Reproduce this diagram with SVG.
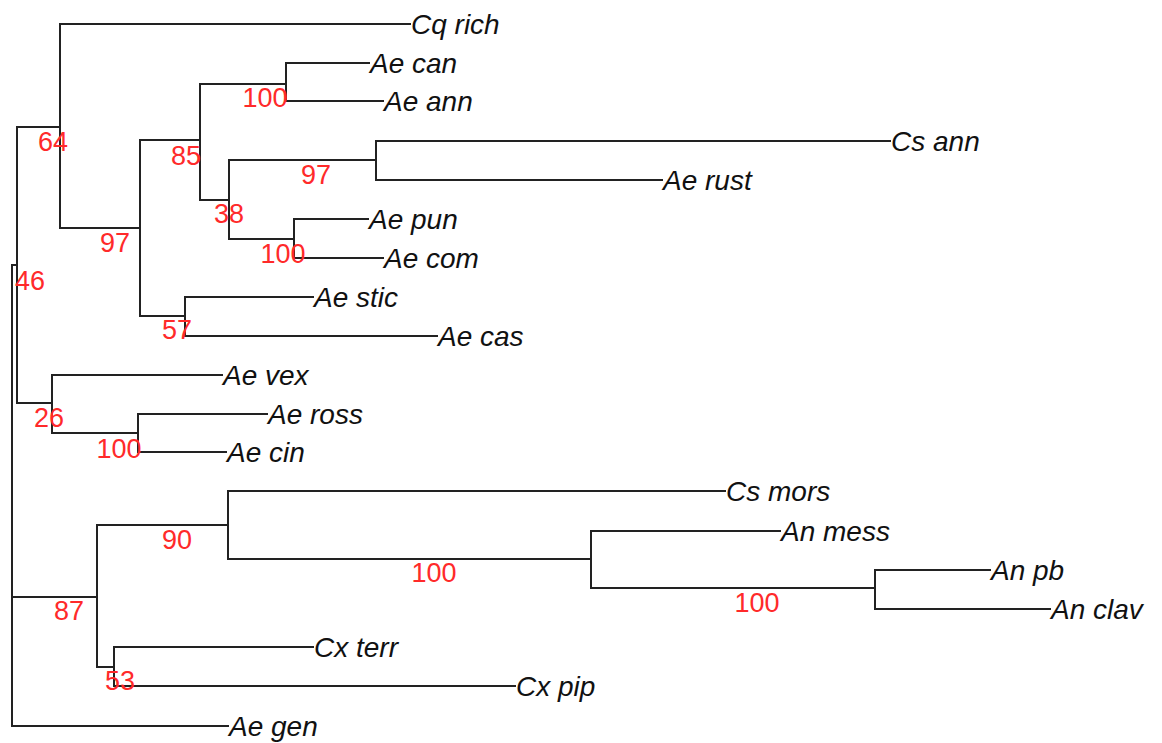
<svg xmlns="http://www.w3.org/2000/svg" width="1162" height="743" viewBox="0 0 1162 743">
<style>
.br{fill:none;stroke:#222;stroke-width:2;stroke-linecap:square}
.tip{font-family:"Liberation Sans",Arial,sans-serif;font-style:italic;font-size:28px;fill:#111}
.bs{font-family:"Liberation Sans",Arial,sans-serif;font-size:27px;fill:#ff2a2a;text-anchor:middle}
</style>
<rect width="1162" height="743" fill="#fff"/>
<g id="connectors" class="br">
<path d="M12,265 V726 M12,265 H17 M12,597 H97 M12,726 H228"/>
<path d="M17,127 V403 M17,127 H60 M17,403 H52"/>
<path d="M60,24 V228 M60,24 H410 M60,228 H140"/>
<path d="M140,140 V316 M140,140 H200 M140,316 H185"/>
<path d="M200,84 V200 M200,84 H286 M200,200 H229"/>
<path d="M286,63 V101 M286,63 H369 M286,101 H383"/>
<path d="M229,160 V239 M229,160 H376 M229,239 H294"/>
<path d="M376,141 V180 M376,141 H890 M376,180 H662"/>
<path d="M294,219 V258 M294,219 H368 M294,258 H383"/>
<path d="M185,297 V336 M185,297 H313 M185,336 H437"/>
<path d="M52,375 V433 M52,375 H222 M52,433 H138"/>
<path d="M138,414 V452 M138,414 H267 M138,452 H226"/>
<path d="M97,525 V667 M97,525 H228 M97,667 H114"/>
<path d="M228,491 V559 M228,491 H725 M228,559 H591"/>
<path d="M591,531 V588 M591,531 H780 M591,588 H875"/>
<path d="M875,570 V609 M875,570 H990 M875,609 H1050"/>
<path d="M114,647 V686 M114,647 H313 M114,686 H515"/>
</g>
<g id="tips" class="tip">
<text id="cq-rich" x="411" y="34">Cq rich</text>
<text id="ae-can" x="370" y="73">Ae can</text>
<text id="ae-ann" x="384" y="111">Ae ann</text>
<text id="cs-ann" x="891" y="151">Cs ann</text>
<text id="ae-rust" x="663" y="190">Ae rust</text>
<text id="ae-pun" x="369" y="229">Ae pun</text>
<text id="ae-com" x="384" y="268">Ae com</text>
<text id="ae-stic" x="314" y="307">Ae stic</text>
<text id="ae-cas" x="438" y="346">Ae cas</text>
<text id="ae-vex" x="223" y="385">Ae vex</text>
<text id="ae-ross" x="268" y="424">Ae ross</text>
<text id="ae-cin" x="227" y="462">Ae cin</text>
<text id="cs-mors" x="726" y="501">Cs mors</text>
<text id="an-mess" x="781" y="541">An mess</text>
<text id="an-pb" x="991" y="580">An pb</text>
<text id="an-clav" x="1051" y="619">An clav</text>
<text id="cx-terr" x="314" y="657">Cx terr</text>
<text id="cx-pip" x="516" y="696">Cx pip</text>
<text id="ae-gen" x="229" y="736">Ae gen</text>
</g>
<g id="support" class="bs">
<text x="53" y="151">64</text>
<text x="265" y="107">100</text>
<text x="186" y="165">85</text>
<text x="316" y="184">97</text>
<text x="229" y="223">38</text>
<text x="115" y="252">97</text>
<text x="283" y="263">100</text>
<text x="30" y="290">46</text>
<text x="177" y="339">57</text>
<text x="49" y="427">26</text>
<text x="119" y="458">100</text>
<text x="177" y="549">90</text>
<text x="69" y="620">87</text>
<text x="120" y="690">53</text>
<text x="434" y="582">100</text>
<text x="757" y="612">100</text>
</g>
</svg>
